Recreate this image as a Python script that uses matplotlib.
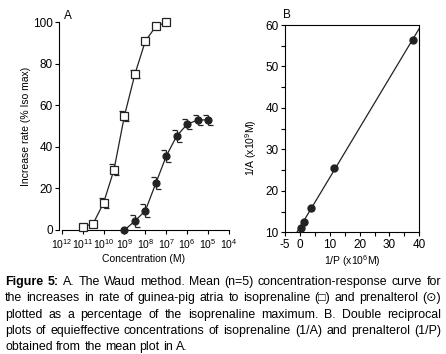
import numpy as np
import matplotlib.pyplot as plt
from matplotlib.path import Path

plt.rcParams['font.family'] = ['Liberation Sans', 'DejaVu Sans']
plt.rcParams['mathtext.fontset'] = 'custom'
plt.rcParams['mathtext.rm'] = 'Liberation Sans'
plt.rcParams['mathtext.it'] = 'Liberation Sans:italic'
plt.rcParams['mathtext.bf'] = 'Liberation Sans:bold'
plt.rcParams['axes.unicode_minus'] = False

# panel A - concentration-response (log10 M, % iso max)
iso_logc = [-11, -10.5, -10, -9.5, -9, -8.5, -8, -7.5, -7]
iso_resp = [1.5, 3, 13, 29, 55, 75, 91, 98, 100]
iso_err = [0, 0, 2.4, 2.6, 2.3, 2.0, 0, 0, 0]

pre_logc = [-9, -8.5, -8, -7.5, -7, -6.5, -6, -5.5, -5]
pre_resp = [0, 4.3, 9.3, 22.5, 35.6, 45.3, 50.9, 53, 53]
pre_err = [0, 3.0, 3.0, 2.8, 3.0, 2.8, 2.5, 2.5, 2.5]

a_ticks = [-12, -11, -10, -9, -8, -7, -6, -5, -4]
a_ticklabels = ['10$^{12}$', '10$^{11}$', '10$^{10}$', '10$^{9}$', '10$^{8}$',
                '10$^{7}$', '10$^{6}$', '10$^{5}$', '10$^{4}$']

# panel B - double reciprocal
inv_p = [0.3, 1.2, 3.7, 11.5, 37.8]
inv_a = [11.1, 12.6, 15.9, 25.4, 56.4]

caption = [
    [('Figure', 'bold'), ('5:', 'bold'), 'A.', 'The', 'Waud', 'method.', 'Mean', '(n=5)',
     'concentration-response', 'curve', 'for'],
    'the increases in rate of guinea-pig atria to isoprenaline (\u25a1) and prenalterol (\u2299)'.split(),
    'plotted as a percentage of the isoprenaline maximum. B. Double reciprocal'.split(),
    'plots of equieffective concentrations of isoprenaline (1/A) and prenalterol (1/P)'.split(),
    'obtained from the mean plot in A.'.split(),
]

W, H = 446, 354
fig = plt.figure(figsize=(W / 100, H / 100), dpi=100)


def box(l, t, r, b):
    return [l / W, 1 - b / H, (r - l) / W, (b - t) / H]


cap_l = Path([(-1, 0), (0, 0)], [Path.MOVETO, Path.LINETO])
cap_r = Path([(0, 0), (1, 0)], [Path.MOVETO, Path.LINETO])


def curve(ax, logc, resp, err, marker, face, ms):
    x = 10.0 ** np.array(logc)
    y = np.array(resp)
    e = np.array(err)
    kw = dict(clip_on=False)
    ax.plot(x, y, color='#222222', lw=0.9, zorder=2, **kw)
    m = e > 0
    ax.vlines(x[m], y[m] - e[m], y[m] + e[m], color='#222222', lw=0.9, zorder=2, **kw)
    ax.plot(x[m], y[m] + e[m], ls='none', marker=cap_l, ms=7, mec='#222222', mew=0.9, zorder=2, **kw)
    ax.plot(x[m], y[m] - e[m], ls='none', marker=cap_r, ms=7, mec='#222222', mew=0.9, zorder=2, **kw)
    ax.plot(x, y, ls='none', marker=marker, ms=ms, mfc=face, mec='#222222', mew=0.9, zorder=3, **kw)


# ---- A
axA = fig.add_axes(box(59, 22.3, 229, 230))
curve(axA, iso_logc, iso_resp, iso_err, 's', 'white', 6)
curve(axA, pre_logc, pre_resp, pre_err, 'o', '#222222', 5)
axA.set_xscale('log')
axA.set_xlim(10 ** -12.13, 1e-4)
axA.set_ylim(0, 100)
axA.spines[['top', 'right']].set_visible(False)
axA.spines['bottom'].set_bounds(1e-12, 1e-4)
axA.set_xticks([10.0 ** t for t in a_ticks])
axA.set_xticklabels(a_ticklabels, fontsize=7.5)
axA.xaxis.set_minor_locator(plt.NullLocator())
axA.set_yticks([0, 20, 40, 60, 80, 100])
axA.tick_params(axis='y', labelsize=8.5, length=3, width=0.8, pad=1.5)
axA.tick_params(axis='x', length=3, width=0.8, pad=2)
axA.set_xlabel('Concentration (M)', fontsize=7.5, labelpad=2)
axA.set_ylabel('Increase rate (% Iso max)', fontsize=7.5, labelpad=1)
for s in axA.spines.values():
    s.set_linewidth(0.8)
fig.text(68 / W, 1 - 16 / H, 'A', fontsize=8.5, ha='center', va='center')

# ---- B
axB = fig.add_axes(box(285, 25, 419.3, 232.3))
fit = np.polyfit(inv_p, inv_a, 1)
xx = np.array([-5, 40])
axB.plot(xx, np.polyval(fit, xx), color='#222222', lw=0.9, zorder=2)
axB.plot(inv_p, inv_a, ls='none', marker='o', ms=5, mfc='#222222', mec='#222222', zorder=3)
axB.set_xlim(-5, 40)
axB.set_ylim(10, 60)
axB.set_xticks([-5, 0, 10, 20, 30, 40])
axB.set_xticks([5, 15, 25, 35], minor=True)
axB.set_yticks([10, 20, 30, 40, 50, 60])
axB.set_yticks([15, 25, 35, 45, 55], minor=True)
axB.tick_params(which='both', labelsize=8.5, length=3, width=0.8, pad=1.5)
axB.set_xlabel('1/P (x10$^{6}$M)', fontsize=7.5, labelpad=2)
axB.set_ylabel('1/A (x10$^{9}$M)', fontsize=7.5, labelpad=3)
axB.yaxis.set_label_coords(-0.19, 0.41)
for s in axB.spines.values():
    s.set_linewidth(0.8)
fig.text(287 / W, 1 - 15 / H, 'B', fontsize=8.5, ha='center', va='center')

# ---- caption, justified
renderer = fig.canvas.get_renderer()
left, right = 5, 441
rows = [282, 298, 315, 331, 347]
csize = 8.9
for i, line in enumerate(caption):
    texts = []
    for w in line:
        word, weight = (w if isinstance(w, tuple) else (w, 'normal'))
        t = fig.text(0, 1 - rows[i] / H, word, fontsize=csize, weight=weight, va='center')
        texts.append(t)
    widths = [t.get_window_extent(renderer).width for t in texts]
    if i < len(caption) - 1:
        gap = (right - left - sum(widths)) / (len(texts) - 1)
    else:
        gap = csize * 100 / 72 * 0.278
    x = left
    for t, w in zip(texts, widths):
        t.set_x(x / W)
        x += w + gap

fig.savefig('out.png', dpi=100)
